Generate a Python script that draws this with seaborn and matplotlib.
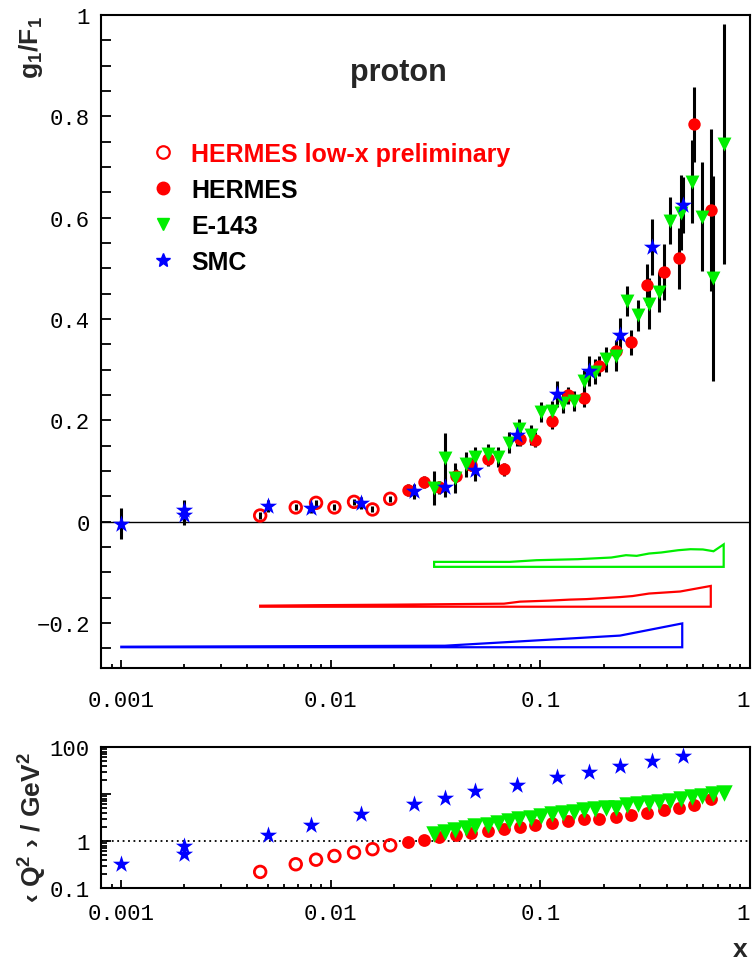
import matplotlib
matplotlib.use("Agg")
import matplotlib.pyplot as plt
import matplotlib.ticker as mticker
from matplotlib.lines import Line2D
import numpy as np
import pandas as pd
import seaborn as sns

# HERMES low-x preliminary (open circles)
lowx_x = [0.0046, 0.0068, 0.0085, 0.0104, 0.0129, 0.0158, 0.0192]
lowx_g1f1 = [0.012, 0.028, 0.037, 0.028, 0.039, 0.024, 0.045]
lowx_err = [0.006, 0.006, 0.006, 0.006, 0.006, 0.006, 0.006]
lowx_q2 = [0.22, 0.32, 0.40, 0.48, 0.57, 0.67, 0.81]

# HERMES (filled circles)
herm_x = [0.0233, 0.0277, 0.0328, 0.0394, 0.0466, 0.056, 0.0667, 0.0795, 0.0947, 0.113,
          0.135, 0.162, 0.191, 0.229, 0.271, 0.324, 0.387, 0.46, 0.543, 0.655]
herm_g1f1 = [0.063, 0.079, 0.068, 0.091, 0.112, 0.123, 0.103, 0.164, 0.162, 0.198,
             0.249, 0.244, 0.307, 0.336, 0.354, 0.468, 0.493, 0.520, 0.784, 0.615]
herm_err = [0.012, 0.012, 0.013, 0.012, 0.013, 0.013, 0.013, 0.014, 0.014, 0.015,
            0.016, 0.018, 0.02, 0.022, 0.025, 0.04, 0.055, 0.06, 0.074, 0.16]
herm_q2 = [0.97, 1.07, 1.2, 1.33, 1.46, 1.64, 1.84, 2.03, 2.24, 2.4,
           2.65, 2.87, 3.0, 3.23, 3.57, 4.0, 4.57, 5.1, 5.85, 7.8]

# E-143 (down triangles)
e143_x = [0.031, 0.035, 0.039, 0.044, 0.049, 0.056, 0.063, 0.071, 0.079, 0.090,
          0.101, 0.113, 0.128, 0.144, 0.162, 0.182, 0.205, 0.230, 0.259, 0.292,
          0.328, 0.370, 0.416, 0.468, 0.526, 0.592, 0.666, 0.749]
e143_g1f1 = [0.066, 0.126, 0.086, 0.113, 0.127, 0.134, 0.127, 0.156, 0.183, 0.171,
             0.217, 0.219, 0.234, 0.238, 0.278, 0.296, 0.320, 0.327, 0.436, 0.407,
             0.430, 0.453, 0.594, 0.610, 0.671, 0.602, 0.480, 0.746]
e143_err = [0.033, 0.049, 0.03, 0.025, 0.02, 0.02, 0.02, 0.02, 0.02, 0.02,
            0.02, 0.02, 0.02, 0.02, 0.022, 0.025, 0.025, 0.03, 0.03, 0.03,
            0.05, 0.04, 0.047, 0.074, 0.082, 0.107, 0.203, 0.237]
e143_q2 = [1.41, 1.56, 1.75, 1.90, 2.10, 2.24, 2.44, 2.65, 2.87, 3.12,
           3.45, 3.68, 3.94, 4.2, 4.57, 4.88, 5.1, 5.1, 5.84, 6.24,
           6.56, 6.9, 7.1, 7.75, 8.7, 9.1, 10.2, 10.6]

# SMC (stars)
smc_x = [0.001, 0.002, 0.002, 0.005, 0.008, 0.014, 0.025, 0.035, 0.049, 0.077,
         0.12, 0.17, 0.24, 0.34, 0.48]
smc_g1f1 = [-0.004, 0.022, 0.013, 0.030, 0.027, 0.037, 0.060, 0.069, 0.101, 0.170,
            0.252, 0.297, 0.368, 0.542, 0.625]
smc_err = [0.03, 0.02, 0.02, 0.012, 0.01, 0.012, 0.015, 0.02, 0.02, 0.02,
           0.025, 0.03, 0.033, 0.055, 0.056]
smc_q2 = [0.32, 0.78, 0.53, 1.37, 2.24, 3.8, 6.0, 8.4, 11.3, 15.7,
          22.7, 30, 38.5, 50, 63]

# systematic error bands (upper edge, common baseline)
e143_band_x = [0.0311, 0.0714, 0.0958, 0.151, 0.218, 0.256, 0.288, 0.330, 0.377,
               0.454, 0.520, 0.596, 0.67, 0.749]
e143_band_top = [-0.0795, -0.0795, -0.0762, -0.0742, -0.0709, -0.0663, -0.0676, -0.063,
                 -0.061, -0.0565, -0.0545, -0.055, -0.0585, -0.045]
e143_band_base = -0.0893
herm_band_x = [0.0046, 0.0085, 0.0194, 0.067, 0.080, 0.110, 0.138, 0.166, 0.24, 0.275,
               0.33, 0.464, 0.65]
herm_band_top = [-0.166, -0.165, -0.164, -0.162, -0.158, -0.156, -0.154, -0.153, -0.149,
                 -0.147, -0.142, -0.138, -0.127]
herm_band_base = -0.168
smc_band_x = [0.001, 0.035, 0.24, 0.475]
smc_band_top = [-0.247, -0.245, -0.225, -0.201]
smc_band_base = -0.248

sns.set_style("ticks")
plt.rcParams["font.family"] = ["Liberation Sans", "DejaVu Sans"]
plt.rcParams["mathtext.fontset"] = "custom"
plt.rcParams["mathtext.rm"] = "Liberation Sans"
plt.rcParams["mathtext.bf"] = "Liberation Sans:bold"

RED = "#ff0000"
GREEN = "#00ee00"
BLUE = "#0000ff"

fig = plt.figure(figsize=(7.53, 9.70), dpi=100)
ax = fig.add_axes([0.1341, 0.3103, 0.8619, 0.6732])
ax2 = fig.add_axes([0.1341, 0.0835, 0.8619, 0.1454])

series = [
    ("lowx", lowx_x, lowx_g1f1, lowx_err, lowx_q2),
    ("herm", herm_x, herm_g1f1, herm_err, herm_q2),
    ("e143", e143_x, e143_g1f1, e143_err, e143_q2),
    ("smc", smc_x, smc_g1f1, smc_err, smc_q2),
]
style = {
    "lowx": dict(marker="o", facecolors="none", edgecolors=RED, linewidth=2.0, s=70),
    "herm": dict(marker="o", color=RED, linewidth=0, s=80),
    "e143": dict(marker="v", color=GREEN, linewidth=0, s=100),
    "smc": dict(marker="*", color=BLUE, linewidth=0, s=170),
}
style2 = {
    "lowx": dict(marker="o", facecolors="none", edgecolors=RED, linewidth=2.0, s=70),
    "herm": dict(marker="o", color=RED, linewidth=0, s=85),
    "e143": dict(marker="v", color=GREEN, linewidth=0, s=140),
    "smc": dict(marker="*", color=BLUE, linewidth=0, s=170),
}

# top panel: g1/F1
ax.axhline(0, color="black", lw=1.0, zorder=1)
for name, x, y, e, q2 in series:
    ax.errorbar(x, y, yerr=e, fmt="none", ecolor="black", elinewidth=2.2, zorder=2)
for name, x, y, e, q2 in series:
    df = pd.DataFrame({"x": x, "y": y})
    sns.scatterplot(data=df, x="x", y="y", ax=ax, zorder=3, **style[name])

for bx, btop, bbase, c in [(e143_band_x, e143_band_top, e143_band_base, GREEN),
                           (herm_band_x, herm_band_top, herm_band_base, RED),
                           (smc_band_x, smc_band_top, smc_band_base, BLUE)]:
    px = list(bx) + list(bx[::-1])
    py = list(btop) + [bbase] * len(bx)
    ax.fill(px, py, facecolor="none", edgecolor=c, lw=1.6)

ax.set_xscale("log")
ax.set_xlim(0.0008, 1.0)
ax.set_ylim(-0.289, 1.0)
ax.set_xlabel("")
ax.set_ylabel("")
ax.yaxis.set_major_locator(mticker.FixedLocator([-0.2, 0, 0.2, 0.4, 0.6, 0.8, 1.0]))
ax.yaxis.set_major_formatter(mticker.FixedFormatter(["\u22120.2", "0", "0.2", "0.4", "0.6", "0.8", "1"]))
ax.yaxis.set_minor_locator(mticker.MultipleLocator(0.05))

# bottom panel: <Q2>
ax2.axhline(1, color="black", lw=1.3, ls=(0, (1, 2)), zorder=1)
for name, x, y, e, q2 in series:
    df = pd.DataFrame({"x": x, "q2": q2})
    sns.scatterplot(data=df, x="x", y="q2", ax=ax2, zorder=3, **style2[name])
ax2.set_xscale("log")
ax2.set_yscale("log")
ax2.set_xlim(0.0008, 1.0)
ax2.set_ylim(0.1, 100)
ax2.set_xlabel("")
ax2.set_ylabel("")
ax2.yaxis.set_major_locator(mticker.FixedLocator([0.1, 1, 10, 100]))
ax2.yaxis.set_major_formatter(mticker.FixedFormatter(["0.1", "1", "", "100"]))
ax2.yaxis.set_minor_locator(mticker.LogLocator(base=10, subs=np.arange(2, 10)))
ax2.yaxis.set_minor_formatter(mticker.NullFormatter())

for a in (ax, ax2):
    a.xaxis.set_major_locator(mticker.FixedLocator([0.001, 0.01, 0.1, 1]))
    a.xaxis.set_major_formatter(mticker.FixedFormatter(["0.001", "0.01", "0.1", "1"]))
    a.xaxis.set_minor_locator(mticker.LogLocator(base=10, subs=np.arange(2, 10)))
    a.xaxis.set_minor_formatter(mticker.NullFormatter())
    for s in a.spines.values():
        s.set_linewidth(1.5)
        s.set_color("black")
    a.tick_params(which="both", direction="in", width=1.3, colors="black",
                  top=False, right=False)
    a.tick_params(which="major", length=6)
    a.tick_params(which="minor", length=3)
    for lab in a.get_xticklabels() + a.get_yticklabels():
        lab.set_family("Liberation Mono")
        lab.set_fontsize(16)
    # keep the "1" at the right edge inside the figure
    a.get_xticklabels()[-1].set_horizontalalignment("right")
ax.tick_params(axis="y", which="both", length=7, pad=8)
ax.tick_params(axis="x", which="major", pad=16)
ax2.tick_params(axis="x", which="major", pad=11)
ax2.tick_params(axis="y", which="major", length=7, pad=8)
ax2.tick_params(axis="y", which="minor", length=4)

ax.text(0.4576, 0.9127, "proton", transform=ax.transAxes, ha="center", va="center",
        fontsize=22, fontweight="bold")

handles = [
    Line2D([], [], ls="none", marker="o", markersize=9, markerfacecolor="none",
           markeredgecolor=RED, markeredgewidth=1.6),
    Line2D([], [], ls="none", marker="o", markersize=9, color=RED),
    Line2D([], [], ls="none", marker="v", markersize=9, color=GREEN),
    Line2D([], [], ls="none", marker="*", markersize=10, color=BLUE),
]
labels = ["HERMES low-x preliminary", "HERMES", "E-143", "SMC"]
leg = ax.legend(handles, labels, loc="center left", bbox_to_anchor=(0.0767, 0.7045),
                frameon=False, borderpad=0, borderaxespad=0, handlelength=1.0,
                handletextpad=0.62, labelspacing=0.48,
                prop={"family": "Liberation Sans", "weight": "bold", "size": 18})
for t, c in zip(leg.get_texts(), [RED, "black", "black", "black"]):
    t.set_color(c)

fig.text(0.041, 0.983, r"$\mathbf{g_1/F_1}$", rotation=90, ha="center", va="top",
         fontsize=19)
fig.text(0.042, 0.1464, "\u2039 Q$^\\mathbf{2}$ \u203a / GeV$^\\mathbf{2}$", rotation=90,
         ha="center", va="center", fontsize=19, fontweight="bold")
fig.text(0.983, 0.0206, "x", ha="center", va="center", fontsize=19, fontweight="bold")

fig.savefig("out.png", dpi=100)
